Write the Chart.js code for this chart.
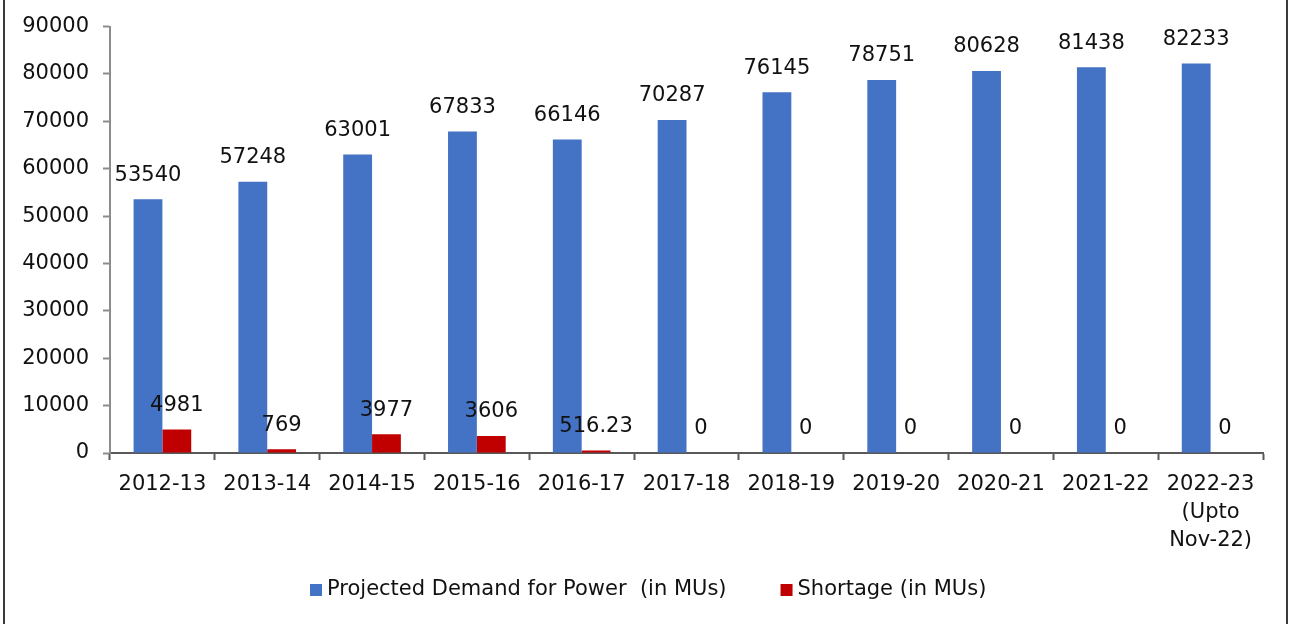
<!DOCTYPE html>
<html>
<head>
<meta charset="utf-8">
<script src="https://cdn.jsdelivr.net/npm/chart.js@4/dist/chart.umd.min.js"></script>
<style>
  html, body { margin: 0; padding: 0; background: #fff; }
  #wrap { position: relative; width: 1297px; height: 624px; }
  #wrap canvas { position: absolute; left: 0; top: 0; }
  #frame {
    position: absolute; left: 3px; top: 0; width: 1285px; height: 624px;
    border-left: 2px solid #3a3a3a; border-right: 2px solid #3a3a3a;
    box-sizing: border-box; pointer-events: none;
  }
</style>
</head>
<body>
<div id="wrap">
  <canvas id="chart" width="1297" height="624"></canvas>
  <div id="frame"></div>
</div>
<script>
// Financial years on the category axis
const years = ['2012-13', '2013-14', '2014-15', '2015-16', '2016-17', '2017-18',
               '2018-19', '2019-20', '2020-21', '2021-22', ['2022-23', '(Upto', 'Nov-22)']];

// Projected demand for power (MUs)
const demand = [53540, 57248, 63001, 67833, 66146, 70287, 76145, 78751, 80628, 81438, 82233];

// Shortage (MUs)
const shortage = [4981, 769, 3977, 3606, 516.23, 0, 0, 0, 0, 0, 0];

// Value axis ticks
const yMin = 0;
const yMax = 90000;
const yStep = 10000;

const FONT = 'DejaVu Sans';
const FONT_SIZE = 21;
const TEXT_COLOR = '#111';

// Writes each bar's value above it
const valueLabels = {
  id: 'valueLabels',
  afterDatasetsDraw(chart) {
    const ctx = chart.ctx;
    ctx.save();
    ctx.font = FONT_SIZE + 'px "' + FONT + '"';
    ctx.fillStyle = TEXT_COLOR;
    ctx.textAlign = 'center';
    ctx.textBaseline = 'middle';
    chart.data.datasets.forEach((ds, i) => {
      const meta = chart.getDatasetMeta(i);
      meta.data.forEach((bar, j) => {
        ctx.fillText(String(ds.data[j]), bar.x, bar.y - 24);
      });
    });
    ctx.restore();
  }
};

// Legend row centred under the plot: small square swatch, then the series name
const bottomLegend = {
  id: 'bottomLegend',
  afterDraw(chart) {
    const ctx = chart.ctx;
    const box = 12, gap = 5, itemGap = 54, cy = 590;
    ctx.save();
    ctx.font = FONT_SIZE + 'px "' + FONT + '"';
    const items = chart.data.datasets.map(ds => ({
      text: ds.label, color: ds.backgroundColor, w: ctx.measureText(ds.label).width
    }));
    const total = items.reduce((s, it) => s + box + gap + it.w, 0) + itemGap * (items.length - 1);
    let x = Math.round((chart.width - total) / 2);
    ctx.textAlign = 'left';
    ctx.textBaseline = 'middle';
    items.forEach(it => {
      ctx.fillStyle = it.color;
      ctx.fillRect(x, cy - 6, box, box);
      x += box + gap;
      ctx.fillStyle = TEXT_COLOR;
      ctx.fillText(it.text, x, cy);
      x += it.w + itemGap;
    });
    ctx.restore();
  }
};

new Chart(document.getElementById('chart'), {
  type: 'bar',
  data: {
    labels: years,
    datasets: [
      {
        label: 'Projected Demand for Power  (in MUs)',
        data: demand,
        backgroundColor: '#4472C4',
        borderWidth: 0,
        barPercentage: 1.0,
        categoryPercentage: 0.55
      },
      {
        label: 'Shortage (in MUs)',
        data: shortage,
        backgroundColor: '#C00000',
        borderWidth: 0,
        barPercentage: 1.0,
        categoryPercentage: 0.55
      }
    ]
  },
  options: {
    responsive: false,
    animation: false,
    layout: { padding: { left: 0, right: 34, top: 23, bottom: 61 } },
    plugins: {
      tooltip: { enabled: false },
      legend: { display: false }
    },
    scales: {
      x: {
        offset: true,
        grid: {
          offset: true,
          drawOnChartArea: false,
          drawTicks: true,
          tickLength: 7,
          tickWidth: 2,
          color: '#595959'
        },
        border: { color: '#595959', width: 2 },
        ticks: {
          color: TEXT_COLOR,
          maxRotation: 0,
          autoSkip: false,
          padding: 11,
          font: { family: FONT, size: FONT_SIZE, lineHeight: 1.33 }
        },
        afterFit(scale) { scale.height = 110; }
      },
      y: {
        min: yMin,
        max: yMax,
        ticks: {
          stepSize: yStep,
          color: TEXT_COLOR,
          padding: 14,
          font: { family: FONT, size: FONT_SIZE },
          callback: v => String(v)
        },
        grid: {
          drawOnChartArea: false,
          drawTicks: true,
          tickLength: 7,
          tickWidth: 2,
          color: '#8c8c8c'
        },
        border: { color: '#8c8c8c', width: 2 },
        afterFit(scale) { scale.width = 110; }
      }
    }
  },
  plugins: [valueLabels, bottomLegend]
});
</script>
</body>
</html>
